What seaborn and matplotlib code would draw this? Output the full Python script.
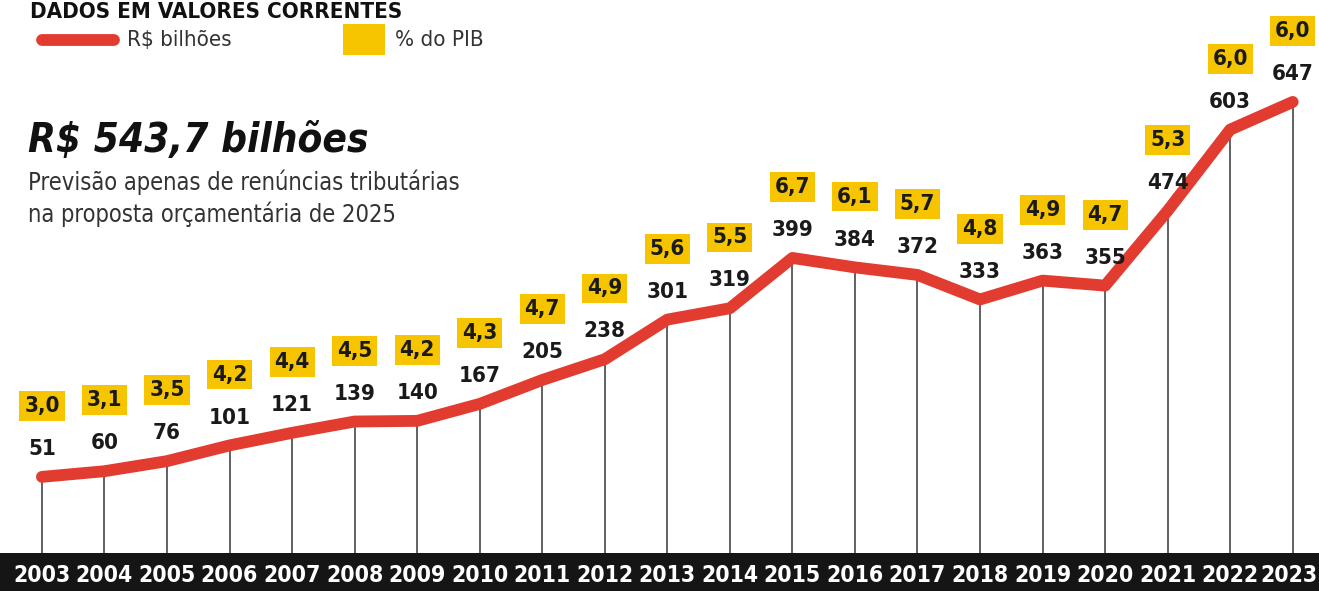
import matplotlib
matplotlib.use("Agg")
import matplotlib.pyplot as plt
import seaborn as sns
import pandas as pd
from matplotlib.patches import Rectangle
from matplotlib.lines import Line2D
from matplotlib.transforms import ScaledTranslation

years = list(range(2003, 2024))
valores = [51, 60, 76, 101, 121, 139, 140, 167, 205, 238, 301, 319,
           399, 384, 372, 333, 363, 355, 474, 603, 647]
pib = [3.0, 3.1, 3.5, 4.2, 4.4, 4.5, 4.2, 4.3, 4.7, 4.9, 5.6, 5.5,
       6.7, 6.1, 5.7, 4.8, 4.9, 4.7, 5.3, 6.0, 6.0]
year_labels = [str(y) for y in years]

sns.set_theme(style="white")
plt.rcParams['font.family'] = ['DejaVu Sans']

RED = "#E23B30"
YELLOW = "#F6C500"
W, H = 1319, 591
fig = plt.figure(figsize=(W / 100, H / 100), dpi=100)
fig.patch.set_facecolor("white")

def fy(px):
    return 1 - px / H

def fx(px):
    return px / W

# black band (drawn first, under the axes)
band = fig.add_axes([0, 0, 1, 38 / H], zorder=0)
band.set_facecolor("#151515")
band.set_xticks([])
band.set_yticks([])
for s in band.spines.values():
    s.set_visible(False)

ax = fig.add_axes([0, 38 / H, 1, 553 / H], zorder=1)
ax.set_facecolor("none")
df = pd.DataFrame({"ano": years, "valor": valores})

ax.vlines(df["ano"], -70, df["valor"], color="#555555", lw=1.3, zorder=1)
sns.lineplot(data=df, x="ano", y="valor", ax=ax, color=RED, lw=8.5,
             solid_capstyle="round", solid_joinstyle="round", zorder=3)

ax.set_xlim(2002.33, 2023.42)
ax.set_ylim(-70, 809)
for s in ax.spines.values():
    s.set_visible(False)
ax.set_xlabel("")
ax.set_ylabel("")
ax.set_yticks([])
ax.set_xticks(years)
ax.set_xticklabels(year_labels, color="white", fontsize=16.5,
                   fontweight="bold", fontstretch="condensed")
ax.tick_params(axis="x", length=0, pad=8)
last = ax.get_xticklabels()[-1]
last.set_transform(last.get_transform() + ScaledTranslation(-4 / 100, 0, fig.dpi_scale_trans))

for x, v, p in zip(years, valores, pib):
    ax.annotate(f"{v}", (x, v), xytext=(0, 20), textcoords="offset points",
                ha="center", va="center", fontsize=16, fontweight="bold",
                fontstretch="condensed", color="#1a1a1a", zorder=4)
    ax.annotate(f"{p:.1f}".replace(".", ","), (x, v), xytext=(0, 51),
                textcoords="offset points", ha="center", va="center",
                fontsize=16, fontweight="bold", fontstretch="condensed",
                color="#1a1a1a", zorder=4,
                bbox=dict(boxstyle="square,pad=0.22", fc=YELLOW, ec="none"))

# header
fig.text(fx(30), fy(18), "DADOS EM VALORES CORRENTES", ha="left", va="baseline",
         fontsize=16, fontweight="bold", fontstretch="condensed", color="#111111")
fig.lines.append(Line2D([fx(42), fx(114)], [fy(40), fy(40)], transform=fig.transFigure,
                        color=RED, lw=8.5, solid_capstyle="round"))
fig.text(fx(127), fy(40), "R$ bilhões", ha="left", va="center", fontsize=16,
         fontstretch="condensed", color="#333333")
fig.patches.append(Rectangle((fx(343), fy(55)), fx(42), 31 / H, transform=fig.transFigure,
                             facecolor=YELLOW, edgecolor="none"))
fig.text(fx(395), fy(40), "% do PIB", ha="left", va="center", fontsize=16,
         fontstretch="condensed", color="#333333")

fig.text(fx(28), fy(152), "R$ 543,7 bilhões", ha="left", va="baseline",
         fontsize=29, fontweight="bold", fontstyle="italic", fontstretch="condensed",
         color="#111111")
fig.text(fx(28), fy(190), "Previsão apenas de renúncias tributárias", ha="left",
         va="baseline", fontsize=17, fontstretch="condensed", color="#333333")
fig.text(fx(28), fy(222), "na proposta orçamentária de 2025", ha="left",
         va="baseline", fontsize=17, fontstretch="condensed", color="#333333")

fig.savefig("out.png", dpi=100)
